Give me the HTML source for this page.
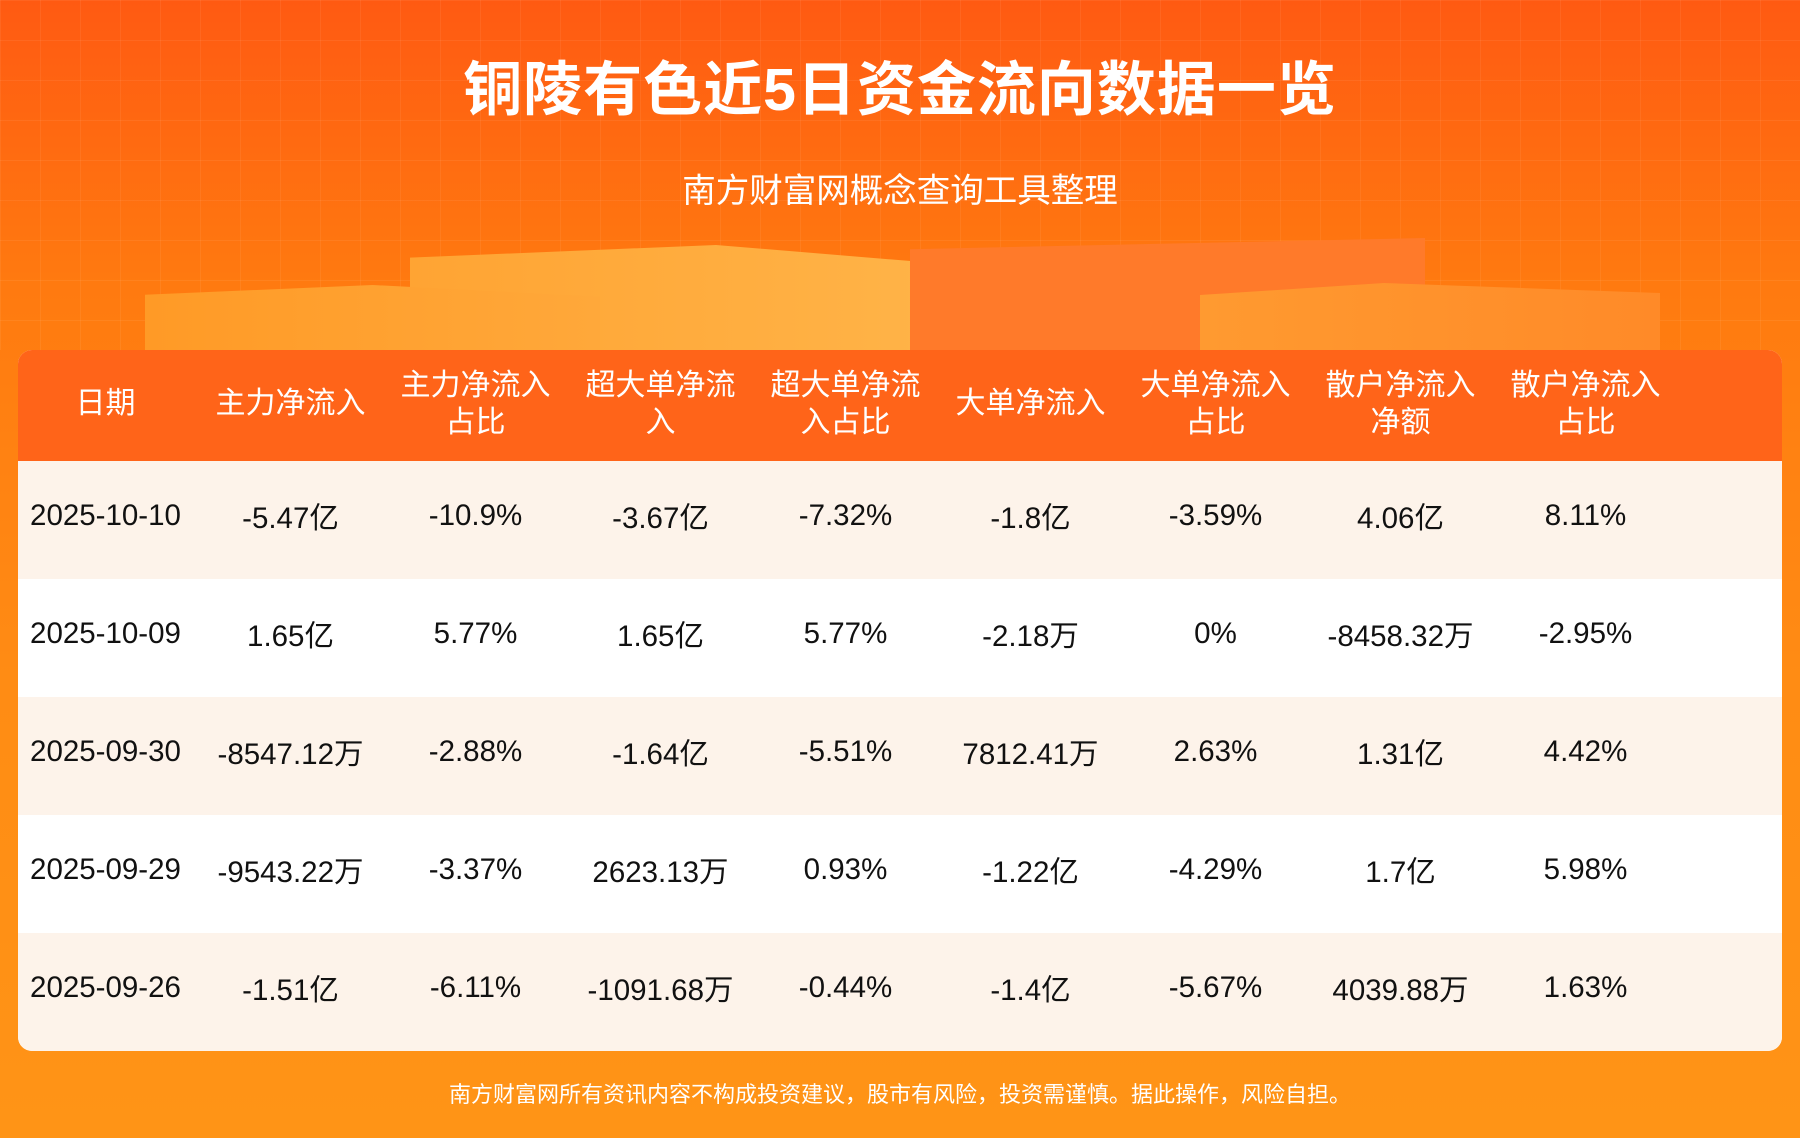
<!DOCTYPE html>
<html><head><meta charset="utf-8"><style>
*{margin:0;padding:0;box-sizing:border-box}
body{width:1800px;height:1138px;overflow:hidden;font-family:"Liberation Sans","Noto Sans CJK SC",sans-serif;background:linear-gradient(180deg,#ff5a12 0%,#ff7a10 25%,#ff8c14 60%,#ff9416 100%);position:relative}
.grid{position:absolute;left:0;top:0;width:1800px;height:350px;background-image:linear-gradient(rgba(255,255,255,.06) 1px,transparent 1px),linear-gradient(90deg,rgba(255,255,255,.06) 1px,transparent 1px);background-size:40px 40px}
.box{position:absolute}
h1{position:absolute;top:42px;width:100%;text-align:center;color:#fff;font-size:59px;font-weight:bold;letter-spacing:1px}
.sub{position:absolute;top:163px;width:100%;text-align:center;color:#fff;font-size:33.5px}
.card{position:absolute;left:18px;top:350px;width:1764px;height:701px;border-radius:14px;overflow:hidden;background:#fff}
.hd{height:111px;background:#ff6419;color:#fff;display:flex;align-items:center;padding-bottom:4px}
.row{height:118px;display:flex;align-items:center;color:#111;font-size:29.5px;padding-bottom:8px}
.row:nth-child(odd){background:#fdf3ea}
.c{width:185px;text-align:center;flex:none}
.c:first-child{margin-left:-5px}
.hd .c{font-size:30px;line-height:37px}
.foot{position:absolute;top:1077px;width:100%;text-align:center;color:#fff;font-size:22px}
</style></head><body>
<div class="grid"></div>
<div class="box" style="left:410px;top:245px;width:510px;height:105px;background:linear-gradient(90deg,#ffa433,#ffb347);clip-path:polygon(0 12%,60% 0,100% 16%,100% 100%,0 100%)"></div>
<div class="box" style="left:910px;top:238px;width:515px;height:112px;background:#ff7a2a;clip-path:polygon(0 10%,100% 0,100% 100%,0 100%)"></div>
<div class="box" style="left:145px;top:285px;width:455px;height:65px;background:linear-gradient(90deg,#ff9a26,#ffa83a);clip-path:polygon(0 15%,50% 0,100% 18%,100% 100%,0 100%)"></div>
<div class="box" style="left:1200px;top:283px;width:460px;height:67px;background:linear-gradient(90deg,#ff9a30,#ff8a28);clip-path:polygon(0 18%,40% 0,100% 15%,100% 100%,0 100%)"></div>
<h1>铜陵有色近5日资金流向数据一览</h1>
<div class="sub">南方财富网概念查询工具整理</div>
<div class="card">
<div class="hd"><div class="c">日期</div><div class="c">主力净流入</div><div class="c">主力净流入<br>占比</div><div class="c">超大单净流<br>入</div><div class="c">超大单净流<br>入占比</div><div class="c">大单净流入</div><div class="c">大单净流入<br>占比</div><div class="c">散户净流入<br>净额</div><div class="c">散户净流入<br>占比</div></div>
<div>
<div class="row"><div class="c">2025-10-10</div><div class="c">-5.47亿</div><div class="c">-10.9%</div><div class="c">-3.67亿</div><div class="c">-7.32%</div><div class="c">-1.8亿</div><div class="c">-3.59%</div><div class="c">4.06亿</div><div class="c">8.11%</div></div>
<div class="row"><div class="c">2025-10-09</div><div class="c">1.65亿</div><div class="c">5.77%</div><div class="c">1.65亿</div><div class="c">5.77%</div><div class="c">-2.18万</div><div class="c">0%</div><div class="c">-8458.32万</div><div class="c">-2.95%</div></div>
<div class="row"><div class="c">2025-09-30</div><div class="c">-8547.12万</div><div class="c">-2.88%</div><div class="c">-1.64亿</div><div class="c">-5.51%</div><div class="c">7812.41万</div><div class="c">2.63%</div><div class="c">1.31亿</div><div class="c">4.42%</div></div>
<div class="row"><div class="c">2025-09-29</div><div class="c">-9543.22万</div><div class="c">-3.37%</div><div class="c">2623.13万</div><div class="c">0.93%</div><div class="c">-1.22亿</div><div class="c">-4.29%</div><div class="c">1.7亿</div><div class="c">5.98%</div></div>
<div class="row"><div class="c">2025-09-26</div><div class="c">-1.51亿</div><div class="c">-6.11%</div><div class="c">-1091.68万</div><div class="c">-0.44%</div><div class="c">-1.4亿</div><div class="c">-5.67%</div><div class="c">4039.88万</div><div class="c">1.63%</div></div>
</div></div>
<div class="foot">南方财富网所有资讯内容不构成投资建议，股市有风险，投资需谨慎。据此操作，风险自担。</div>
</body></html>
